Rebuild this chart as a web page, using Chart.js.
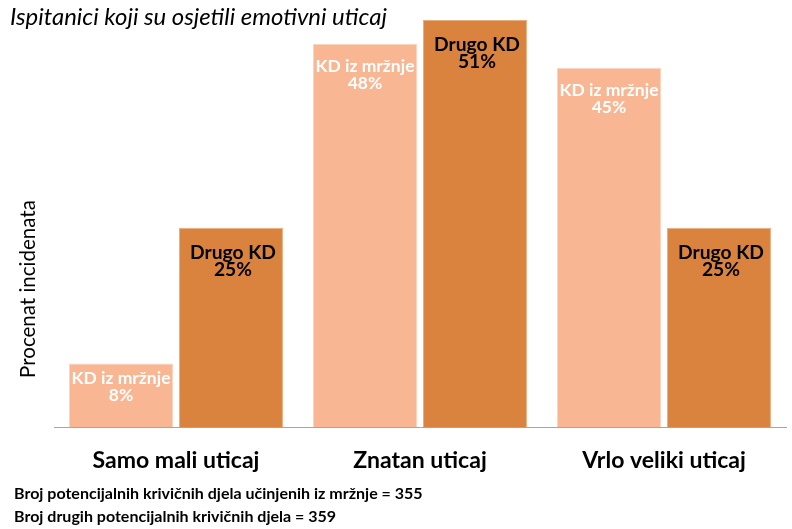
<!DOCTYPE html>
<html><head><meta charset="utf-8">
<script src="https://cdn.jsdelivr.net/npm/chart.js@4.4.0/dist/chart.umd.min.js"></script>
<style>html,body{margin:0;padding:0;background:#fff;}#wrap{width:792px;height:529px;position:relative;}</style>
</head><body><div id="wrap"><canvas id="c" width="792" height="529"></canvas></div>
<script>
const categories = ["Samo mali uticaj", "Znatan uticaj", "Vrlo veliki uticaj"];
const hateLabel = "KD iz mržnje";
const otherLabel = "Drugo KD";
const hateValues = [8, 48, 45];
const otherValues = [25, 51, 25];
const titleText = "Ispitanici koji su osjetili emotivni uticaj";
const yTitle = "Procenat incidenata";
const footerLines = ["Broj potencijalnih krivičnih djela učinjenih iz mržnje = 355", "Broj drugih potencijalnih krivičnih djela = 359"];
const FONT = "Lato, 'Open Sans', sans-serif";

const mctx = document.createElement('canvas').getContext('2d');
function fit(text, style, width) {
  mctx.font = style + " 100px " + FONT;
  return 100 * width / mctx.measureText(text).width;
}
const S = {
  title: fit(titleText, 'italic', 377),
  footer: fit(footerLines[0], 'bold', 409),
  cat: fit(categories[0], 'bold', 167),
  ytitle: fit(yTitle, '', 178),
  light: fit(hateLabel, 'bold', 99),
  dark: fit(otherLabel, 'bold', 86)
};

const textPlugin = {
  id: 'texts',
  afterDraw(chart) {
    const ctx = chart.ctx;
    ctx.save();
    ctx.fillStyle = '#000';
    ctx.textBaseline = 'middle';
    ctx.textAlign = 'left';
    ctx.font = "italic " + S.title + "px " + FONT;
    ctx.fillText(titleText, 10, 17);
    ctx.font = "bold " + S.footer + "px " + FONT;
    ctx.fillText(footerLines[0], 14, 494);
    ctx.fillText(footerLines[1], 14, 517);
    ctx.translate(28, 289);
    ctx.rotate(-Math.PI / 2);
    ctx.textAlign = 'center';
    ctx.font = S.ytitle + "px " + FONT;
    ctx.fillText(yTitle, 0, 0);
    ctx.restore();
  },
  afterDatasetsDraw(chart) {
    const ctx = chart.ctx;
    ctx.save();
    ctx.textAlign = 'center';
    ctx.textBaseline = 'middle';
    chart.data.datasets.forEach((ds, di) => {
      const meta = chart.getDatasetMeta(di);
      meta.data.forEach((bar, i) => {
        const v = ds.data[i];
        const h = bar.base - bar.y;
        if (di === 0) {
          ctx.fillStyle = '#fff';
          ctx.font = "bold " + S.light + "px " + FONT;
          const off = h < 100 ? 15 : 22;
          ctx.fillText(ds.label, bar.x, bar.y + off);
          ctx.fillText(v + '%', bar.x, bar.y + off + 17);
        } else {
          ctx.fillStyle = '#000';
          ctx.font = "bold " + S.dark + "px " + FONT;
          ctx.fillText(ds.label, bar.x + 2, bar.y + 25);
          ctx.fillText(v + '%', bar.x + 2, bar.y + 25 + 17);
        }
      });
    });
    ctx.restore();
  }
};

new Chart(document.getElementById('c'), {
  type: 'bar',
  data: {
    labels: categories,
    datasets: [
      { label: hateLabel, data: hateValues, backgroundColor: '#F8B692', borderColor: '#FBD3BE', borderWidth: 1 },
      { label: otherLabel, data: otherValues, backgroundColor: '#D9833F', borderColor: '#E9AC7C', borderWidth: 1 }
    ]
  },
  options: {
    responsive: false,
    animation: false,
    devicePixelRatio: 1,
    categoryPercentage: 0.9016,
    barPercentage: 0.945,
    layout: { padding: { left: 54, right: 6, top: 20, bottom: 36 } },
    plugins: { legend: { display: false }, tooltip: { enabled: false }, title: { display: false } },
    scales: {
      x: {
        grid: { display: false, drawTicks: false },
        border: { display: true, color: '#A6A6A6', width: 1 },
        ticks: { color: '#000', padding: 19, font: { family: FONT, size: S.cat, weight: 'bold' } }
      },
      y: { display: false, min: 0, max: 51 }
    }
  },
  plugins: [textPlugin]
});
</script></body></html>
